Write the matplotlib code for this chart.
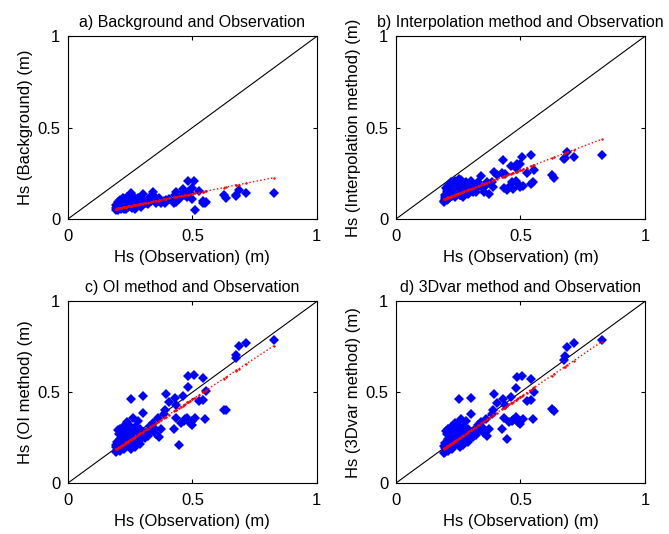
import numpy as np
import matplotlib
matplotlib.use("Agg")
import matplotlib.pyplot as plt

plt.rcParams['font.family'] = ['Liberation Sans', 'DejaVu Sans']

# observed Hs and the four estimates (m)
obs = [0.826, 0.714, 0.687, 0.677, 0.675, 0.635, 0.625, 0.555, 0.542, 0.505,
       0.484, 0.481, 0.542, 0.525, 0.510, 0.500, 0.490, 0.470, 0.461, 0.455,
       0.445, 0.436, 0.434, 0.431, 0.427, 0.405, 0.394, 0.391, 0.384, 0.375,
       0.367, 0.343, 0.335, 0.330, 0.320, 0.315, 0.302, 0.300, 0.295, 0.290,
       0.285, 0.280, 0.275, 0.270, 0.265, 0.260, 0.258, 0.253, 0.250, 0.248,
       0.245, 0.242, 0.240, 0.237, 0.235, 0.232, 0.230, 0.228, 0.225, 0.222,
       0.220, 0.218, 0.215, 0.212, 0.210, 0.208, 0.205, 0.203, 0.200, 0.198,
       0.196, 0.195, 0.193, 0.192, 0.210, 0.225, 0.255, 0.270, 0.290, 0.310,
       0.350, 0.355, 0.360, 0.465, 0.480, 0.500, 0.550]
background = [0.140, 0.140, 0.158, 0.131, 0.125, 0.113, 0.131, 0.095, 0.100, 0.208,
              0.208, 0.150, 0.085, 0.153, 0.049, 0.170, 0.140, 0.130, 0.165, 0.120,
              0.110, 0.150, 0.095, 0.130, 0.090, 0.110, 0.105, 0.085, 0.100, 0.090,
              0.115, 0.149, 0.100, 0.120, 0.080, 0.090, 0.135, 0.105, 0.065, 0.090,
              0.080, 0.115, 0.070, 0.105, 0.085, 0.125, 0.060, 0.140, 0.090, 0.075,
              0.100, 0.065, 0.085, 0.120, 0.055, 0.080, 0.110, 0.070, 0.090, 0.060,
              0.115, 0.075, 0.085, 0.055, 0.105, 0.065, 0.080, 0.050, 0.095, 0.070,
              0.055, 0.075, 0.060, 0.048, 0.065, 0.055, 0.070, 0.055, 0.075, 0.095,
              0.120, 0.085, 0.100, 0.150, 0.120, 0.110, 0.090]
interp = [0.350, 0.340, 0.365, 0.335, 0.330, 0.226, 0.240, 0.270, 0.350, 0.337,
          0.300, 0.280, 0.190, 0.250, 0.180, 0.300, 0.190, 0.165, 0.290, 0.175,
          0.160, 0.245, 0.170, 0.322, 0.250, 0.240, 0.259, 0.177, 0.205, 0.137,
          0.200, 0.235, 0.180, 0.200, 0.150, 0.165, 0.210, 0.190, 0.140, 0.175,
          0.160, 0.200, 0.150, 0.185, 0.170, 0.215, 0.130, 0.220, 0.175, 0.160,
          0.195, 0.140, 0.165, 0.210, 0.120, 0.160, 0.185, 0.145, 0.175, 0.130,
          0.200, 0.150, 0.165, 0.115, 0.180, 0.140, 0.155, 0.105, 0.170, 0.130,
          0.110, 0.120, 0.100, 0.095, 0.110, 0.125, 0.130, 0.120, 0.135, 0.150,
          0.170, 0.150, 0.185, 0.200, 0.210, 0.175, 0.200]
oi = [0.786, 0.772, 0.757, 0.707, 0.689, 0.400, 0.403, 0.505, 0.578, 0.593,
      0.587, 0.527, 0.459, 0.453, 0.360, 0.340, 0.330, 0.350, 0.477, 0.330,
      0.210, 0.431, 0.357, 0.468, 0.298, 0.444, 0.490, 0.403, 0.380, 0.300,
      0.256, 0.330, 0.290, 0.315, 0.260, 0.280, 0.477, 0.385, 0.240, 0.300,
      0.270, 0.340, 0.230, 0.310, 0.280, 0.357, 0.220, 0.462, 0.295, 0.260,
      0.320, 0.240, 0.270, 0.335, 0.210, 0.285, 0.305, 0.250, 0.290, 0.230,
      0.310, 0.260, 0.275, 0.200, 0.300, 0.240, 0.270, 0.190, 0.290, 0.225,
      0.180, 0.200, 0.170, 0.210, 0.175, 0.185, 0.190, 0.200, 0.215, 0.250,
      0.300, 0.270, 0.360, 0.340, 0.360, 0.320, 0.350]
var3d = [0.786, 0.770, 0.750, 0.700, 0.680, 0.395, 0.405, 0.500, 0.575, 0.590,
         0.585, 0.525, 0.455, 0.450, 0.355, 0.340, 0.335, 0.345, 0.475, 0.335,
         0.240, 0.430, 0.360, 0.465, 0.300, 0.440, 0.488, 0.400, 0.380, 0.300,
         0.260, 0.335, 0.295, 0.320, 0.265, 0.285, 0.470, 0.380, 0.250, 0.300,
         0.275, 0.340, 0.235, 0.310, 0.285, 0.355, 0.225, 0.460, 0.300, 0.265,
         0.325, 0.240, 0.275, 0.330, 0.215, 0.290, 0.305, 0.255, 0.290, 0.230,
         0.310, 0.260, 0.280, 0.205, 0.300, 0.240, 0.270, 0.185, 0.285, 0.220,
         0.170, 0.195, 0.165, 0.205, 0.175, 0.190, 0.200, 0.210, 0.225, 0.255,
         0.305, 0.275, 0.355, 0.340, 0.365, 0.325, 0.350]

# linear fits (slope, intercept)
fit_slope = [0.268, 0.517, 0.899, 0.928]
fit_intercept = [0.004, 0.009, 0.012, 0.011]

titles = ['a) Background and Observation', 'b) Interpolation method and Observation',
          'c) OI method and Observation', 'd) 3Dvar method and Observation']
ylabels = ['Hs (Background) (m)', 'Hs (Interpolation method) (m)',
           'Hs (OI method) (m)', 'Hs (3Dvar method) (m)']
xlabel = 'Hs (Observation) (m)'

fig = plt.figure(figsize=(6.69, 5.34), dpi=100)
positions = [[0.1016, 0.590, 0.372, 0.342], [0.592, 0.590, 0.372, 0.342],
             [0.1016, 0.0955, 0.372, 0.340], [0.592, 0.0955, 0.372, 0.340]]

x = np.array(obs)
xs = np.sort(x)
series = [background, interp, oi, var3d]
for i, (pos, ys, title, ylab) in enumerate(zip(positions, series, titles, ylabels)):
    ax = fig.add_axes(pos)
    y = np.array(ys)
    ax.plot([0, 1], [0, 1], color='black', lw=0.8)
    ax.plot(x, y, linestyle='none', marker='D', color='#0000ff', markersize=4.8,
            markeredgewidth=0)
    yfit = fit_slope[i] * xs + fit_intercept[i]
    ax.plot(xs, yfit, color='red', linestyle=':', lw=1.0)
    ax.plot(xs, yfit, color='red', linestyle='none', marker='.', markersize=1.5)
    ax.set_xlim(0, 1)
    ax.set_ylim(0, 1)
    ax.set_xticks([0, 0.5, 1])
    ax.set_yticks([0, 0.5, 1])
    ax.set_xticklabels(['0', '0.5', '1'])
    ax.set_yticklabels(['0', '0.5', '1'])
    ax.tick_params(direction='in', top=True, right=True, length=3, labelsize=12)
    ax.tick_params(axis='x', pad=7.5)
    ax.tick_params(axis='y', pad=5.5)
    ax.set_title(title, fontsize=11.5, pad=7)
    ax.set_xlabel(xlabel, fontsize=12, labelpad=4)
    ax.set_ylabel(ylab, fontsize=12, labelpad=3)

fig.savefig('out.png', dpi=100)
